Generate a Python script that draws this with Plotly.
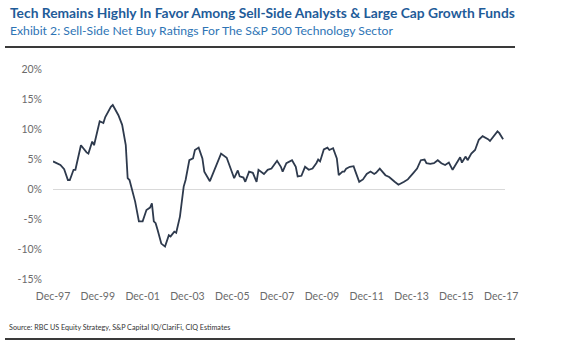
import plotly.graph_objects as go

# Sell-side net buy ratings, S&P 500 Technology sector (month, % net buy)
months = [
    "1997-12", "1998-04", "1998-06", "1998-08", "1998-09", "1998-11", "1998-12",
    "1999-03", "1999-06", "1999-07", "1999-09", "1999-10", "2000-01", "2000-03",
    "2000-04", "2000-07", "2000-08", "2000-11", "2001-01", "2001-03", "2001-04",
    "2001-05", "2001-08", "2001-10", "2001-12", "2002-02", "2002-04", "2002-05",
    "2002-06", "2002-07", "2002-08", "2002-10", "2002-12", "2003-02", "2003-03",
    "2003-05", "2003-06", "2003-08", "2003-10", "2003-11", "2004-01", "2004-03",
    "2004-04", "2004-06", "2004-08", "2004-09", "2004-12", "2005-03", "2005-06",
    "2005-09", "2005-12", "2006-01", "2006-03", "2006-04", "2006-06", "2006-07",
    "2006-09", "2006-11", "2007-01", "2007-02", "2007-05", "2007-07", "2007-09",
    "2007-12", "2008-02", "2008-03", "2008-05", "2008-08", "2008-10", "2008-11",
    "2009-01", "2009-03", "2009-05", "2009-07", "2009-09", "2009-10", "2009-11",
    "2010-01", "2010-03", "2010-04", "2010-06", "2010-08", "2010-09", "2010-11",
    "2010-12", "2011-01", "2011-03", "2011-05", "2011-06", "2011-08", "2011-10",
    "2011-12", "2012-02", "2012-04", "2012-05", "2012-07", "2012-10", "2012-12",
    "2013-03", "2013-05", "2013-08", "2013-10", "2014-01", "2014-03", "2014-05",
    "2014-07", "2014-08", "2014-10", "2014-12", "2015-02", "2015-04", "2015-06",
    "2015-08", "2015-10", "2016-02", "2016-03", "2016-05", "2016-06", "2016-08",
    "2016-10", "2016-12", "2017-02", "2017-05", "2017-06", "2017-10", "2017-11",
    "2018-01",
]
net_buy_pct = [
    4.6, 4.0, 3.3, 1.5, 1.5, 3.2, 3.2,
    7.3, 6.1, 5.9, 7.9, 7.3, 11.3, 11.0,
    12.0, 13.7, 14.0, 12.3, 10.7, 7.3, 1.8,
    1.5, -2.1, -5.4, -5.4, -3.5, -3.1, -2.4,
    -5.4, -5.7, -6.8, -9.1, -9.6, -7.7, -7.9,
    -7.1, -7.3, -4.6, 0.4, 1.5, 4.8, 5.1,
    6.5, 6.9, 5.1, 2.9, 1.3, 3.7, 5.9,
    5.2, 2.6, 1.8, 3.1, 2.1, 1.9, 1.2,
    2.9, 2.7, 1.2, 3.2, 2.5, 3.2, 3.4,
    4.7, 3.7, 2.9, 4.3, 4.8, 3.7, 2.1,
    2.2, 3.7, 3.2, 3.4, 4.3, 4.9, 4.6,
    6.6, 6.9, 6.5, 6.8, 5.1, 2.3, 2.9,
    2.9, 3.4, 3.7, 3.8, 2.9, 1.2, 1.6,
    2.5, 2.9, 2.5, 2.7, 3.4, 2.3, 2.0,
    1.2, 0.7, 1.2, 1.6, 2.7, 3.4, 4.8,
    4.9, 4.3, 4.2, 4.3, 4.8, 4.3, 4.0,
    4.4, 3.2, 5.3, 4.4, 5.4, 4.8, 5.9,
    6.5, 8.2, 8.8, 8.3, 8.0, 9.6, 9.3,
    8.3,
]

# Axis ticks
x_tick_dates = ["1997-12-01", "1999-12-01", "2001-12-01", "2003-12-01",
                "2005-12-01", "2007-12-01", "2009-12-01", "2011-12-01",
                "2013-12-01", "2015-12-01", "2017-12-01"]
x_tick_labels = ["Dec-97", "Dec-99", "Dec-01", "Dec-03", "Dec-05", "Dec-07",
                 "Dec-09", "Dec-11", "Dec-13", "Dec-15", "Dec-17"]
y_tick_vals = [20, 15, 10, 5, 0, -5, -10, -15]
y_tick_labels = ["20%", "15%", "10%", "5%", "0%", "-5%", "-10%", "-15%"]

title_text = "Tech Remains Highly In Favor Among Sell-Side Analysts & Large Cap Growth Funds"
subtitle_text = "Exhibit 2: Sell-Side Net Buy Ratings For The S&P 500 Technology Sector"
source_text = "Source: RBC US Equity Strategy, S&P Capital IQ/ClariFi, CIQ Estimates"

W, H = 580, 344
PL, PR, PT, PB = 53, 505, 69, 279  # plot area in pixels


def px(x):
    return (x - PL) / (PR - PL)


def py(y):
    return (PB - y) / (PB - PT)


FONT = "Lato, Calibri, sans-serif"

fig = go.Figure()
fig.add_trace(go.Scatter(
    x=[m + "-01" for m in months],
    y=net_buy_pct,
    mode="lines",
    line=dict(color="#2E3A4D", width=1.8),
    hoverinfo="skip",
    showlegend=False,
))

fig.update_layout(
    width=W, height=H,
    margin=dict(l=PL, r=W - PR, t=PT, b=H - PB, pad=0),
    paper_bgcolor="white",
    plot_bgcolor="white",
    font=dict(family=FONT, color="#6B6B6B", size=10.5),
    xaxis=dict(
        type="date",
        range=["1997-12-01", "2018-02-01"],
        tickvals=x_tick_dates,
        ticktext=x_tick_labels,
        showgrid=False,
        zeroline=False,
        showline=False,
        ticks="",
        ticklabelstandoff=9,
        tickfont=dict(size=10.5, color="#6B6B6B"),
    ),
    yaxis=dict(
        range=[-15, 20],
        tickvals=y_tick_vals,
        ticktext=y_tick_labels,
        showgrid=False,
        zeroline=True,
        zerolinecolor="#D9D9D9",
        zerolinewidth=1,
        showline=False,
        ticks="",
        ticklabelstandoff=10,
        tickfont=dict(size=10.5, color="#6B6B6B"),
    ),
    shapes=[
        dict(type="line", xref="paper", yref="paper",
             x0=px(5), x1=px(515), y0=py(47), y1=py(47),
             line=dict(color="#3A3A3A", width=2)),
        dict(type="line", xref="paper", yref="paper",
             x0=px(5), x1=px(515), y0=py(339), y1=py(339),
             line=dict(color="#3A3A3A", width=2)),
    ],
    annotations=[
        dict(text="<b>" + title_text + "</b>", xref="paper", yref="paper",
             x=px(8), y=py(12), xanchor="left", yanchor="middle",
             showarrow=False, font=dict(family=FONT, size=13.8, color="#1F5C99")),
        dict(text=subtitle_text, xref="paper", yref="paper",
             x=px(8), y=py(31), xanchor="left", yanchor="middle",
             showarrow=False, font=dict(family=FONT, size=12.2, color="#2E74B5")),
        dict(text=source_text, xref="paper", yref="paper",
             x=px(7), y=py(327), xanchor="left", yanchor="middle",
             showarrow=False, font=dict(family=FONT, size=7.2, color="#333333")),
    ],
)

fig.write_html("out.html")
